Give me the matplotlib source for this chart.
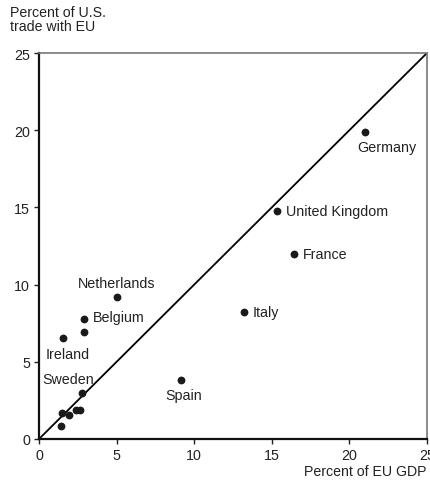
import matplotlib
matplotlib.use("Agg")
import matplotlib.pyplot as plt

countries = ["Germany", "United Kingdom", "France", "Italy", "Netherlands", "Belgium",
             "", "Ireland", "Spain", "Sweden", "", "", "", "", ""]
eu_gdp = [21.0, 15.35, 16.4, 13.2, 5.0, 2.9, 2.9, 1.55, 9.15, 2.75, 1.5, 1.95, 2.4, 2.65, 1.4]
us_trade = [19.9, 14.75, 12.0, 8.2, 9.2, 7.8, 6.9, 6.55, 3.8, 3.0, 1.7, 1.55, 1.9, 1.9, 0.85]
ticks = [0, 5, 10, 15, 20, 25]

# label offsets in pixels (dx, dy, ha)
offsets = {
    "Germany": (-8, -15, "left"),
    "United Kingdom": (9, 0, "left"),
    "France": (9, 0, "left"),
    "Italy": (9, 0, "left"),
    "Netherlands": (0, 14, "center"),
    "Belgium": (9, 2, "left"),
    "Ireland": (5, -16, "center"),
    "Spain": (3, -15, "center"),
    "Sweden": (-13, 14, "center"),
}

plt.rcParams['font.family'] = ['Liberation Sans', 'DejaVu Sans']
fig = plt.figure(figsize=(4.3, 4.85), dpi=100)
ax = fig.add_axes([39/430, 1-440/485, (427-39)/430, (440-54)/485])
ax.set_xlim(0, 25)
ax.set_ylim(0, 25)
ax.plot([0, 25], [0, 25], color="black", lw=1.3, zorder=2)
ax.plot(eu_gdp, us_trade, "o", color="#1a1a1a", markersize=4.6, zorder=3, clip_on=False)
for name, x, y in zip(countries, eu_gdp, us_trade):
    if name:
        dx, dy, ha = offsets[name]
        ax.annotate(name, (x, y), xytext=(dx, dy), textcoords="offset pixels",
                    ha=ha, va="center", fontsize=10.3, color="#222222")

ax.set_xticks(ticks)
ax.set_yticks(ticks)
ax.tick_params(direction="out", length=3.5, width=1, labelsize=10.3, colors="#222222", pad=3)
for s in ["left", "bottom"]:
    ax.spines[s].set_color("#111111")
    ax.spines[s].set_linewidth(1.6)
for s in ["top", "right"]:
    ax.spines[s].set_color("#777777")
    ax.spines[s].set_linewidth(1.2)

fig.text(10/430, 1-6/485, "Percent of U.S.\ntrade with EU", ha="left", va="top",
         fontsize=10.2, color="#222222", linespacing=1.0)
fig.text(427/430, 1-472/485, "Percent of EU GDP", ha="right", va="center",
         fontsize=10.2, color="#222222")
fig.savefig("out.png", dpi=100)
